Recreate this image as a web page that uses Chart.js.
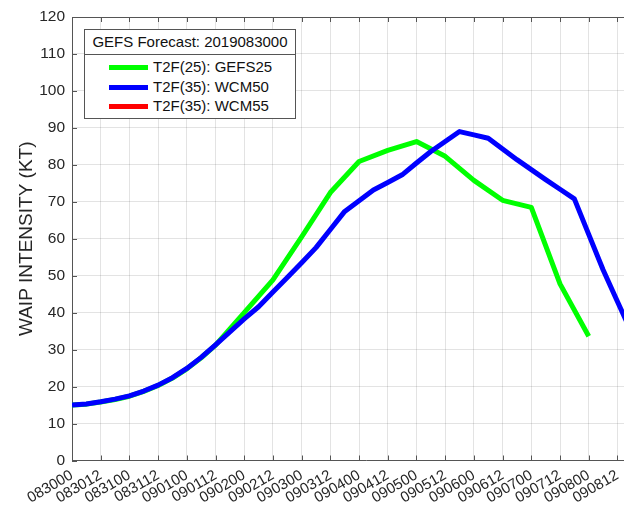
<!DOCTYPE html>
<html>
<head>
<meta charset="utf-8">
<script src="https://cdn.jsdelivr.net/npm/chart.js@4"></script>
<style>
    html, body { margin: 0; padding: 0; overflow: hidden; background: #fff; }
    #wrap { position: relative; width: 624px; height: 509px; overflow: hidden; }
    #grafico { position: absolute; left: 0; top: 0; }
    #leyenda {
        position: absolute; left: 84px; top: 29px; width: 210px; height: 88px;
        border: 1px solid #555; background: #fff;
        font-family: "Liberation Sans", Arial, sans-serif; font-size: 15px; color: #111;
    }
    #leyenda .titulo { height: 24px; line-height: 24px; text-align: center; border-bottom: 1px solid #555; }
    #leyenda .fila { height: 19.7px; line-height: 19.7px; position: relative; padding-left: 68px; }
    #leyenda .fila span.linea { position: absolute; left: 24px; top: 8px; width: 39px; height: 5px; }
    #leyenda .filas { padding-top: 2px; }
</style>
</head>
<body>
<div id="wrap">
    <canvas id="grafico" width="660" height="509"></canvas>
    <div id="leyenda"></div>
</div>
<script>
// Etiquetas del eje X (cada 12 horas desde 083000)
const tickLabels = ['083000', '083012', '083100', '083112', '090100', '090112', '090200', '090212',
    '090300', '090312', '090400', '090412', '090500', '090512', '090600', '090612',
    '090700', '090712', '090800', '090812'];

const legendTitle = 'GEFS Forecast: 2019083000';
const seriesNames = ['T2F(25): GEFS25', 'T2F(35): WCM50', 'T2F(35): WCM55'];
const seriesColors = ['#00ff00', '#0000ff', '#ff0000'];

// Horas desde el inicio del pronostico y valores (KT)
const gefs25Hours = [0, 6, 12, 18, 24, 30, 36, 42, 48, 54, 60, 72, 84, 96, 108, 120, 132, 144, 156, 168, 180, 192, 204, 216];
const gefs25Values = [15.0, 15.25, 15.85, 16.5, 17.4, 18.7, 20.3, 22.3, 24.8, 27.8, 31.2, 40.0, 48.9, 60.5, 72.5, 80.9, 83.9, 86.3, 82.3, 75.8, 70.4, 68.5, 47.8, 33.6];

const wcm50Hours = [0, 6, 12, 18, 24, 30, 36, 42, 48, 54, 60, 66, 72, 78, 84, 90, 96, 102, 108, 114, 120, 126, 132, 138,
    144, 150, 156, 162, 168, 174, 180, 186, 192, 198, 204, 210, 216, 222, 228, 234];
const wcm50Values = [15.0, 15.3, 15.9, 16.6, 17.5, 18.8, 20.4, 22.4, 24.9, 27.9, 31.3, 34.8, 38.3, 41.6, 45.6, 49.5, 53.5, 57.6,
    62.5, 67.4, 70.3, 73.2, 75.2, 77.3, 80.5, 83.6, 86.3, 89.0, 88.1, 87.2, 84.3, 81.4, 78.7, 76.0, 73.4, 70.8, 61.2, 51.6, 43.0, 34.5];

const wcm55Hours = [];
const wcm55Values = [];

const yTicks = [0, 10, 20, 30, 40, 50, 60, 70, 80, 90, 100, 110, 120];

const fuente = '"Liberation Sans", Arial, sans-serif';
const colorEje = '#555555';
const colorTexto = '#262626';

function armarPuntos(horas, valores) {
    return horas.map((h, i) => ({ x: h, y: valores[i] }));
}

// Marcas interiores y borde superior, estilo MATLAB
const marcasInteriores = {
    id: 'marcasInteriores',
    afterDraw(chart) {
        const { ctx, chartArea, scales } = chart;
        ctx.save();
        ctx.strokeStyle = colorEje;
        ctx.lineWidth = 1;
        ctx.beginPath();
        ctx.moveTo(chartArea.left, chartArea.top + 0.5);
        ctx.lineTo(chartArea.right, chartArea.top + 0.5);
        scales.x.ticks.forEach(t => {
            const px = Math.round(scales.x.getPixelForValue(t.value)) + 0.5;
            ctx.moveTo(px, chartArea.bottom);
            ctx.lineTo(px, chartArea.bottom - 5);
            ctx.moveTo(px, chartArea.top);
            ctx.lineTo(px, chartArea.top + 5);
        });
        scales.y.ticks.forEach(t => {
            const py = Math.round(scales.y.getPixelForValue(t.value)) + 0.5;
            ctx.moveTo(chartArea.left, py);
            ctx.lineTo(chartArea.left + 5, py);
        });
        ctx.stroke();
        ctx.restore();
    }
};

const ctx = document.getElementById('grafico').getContext('2d');
const grafico = new Chart(ctx, {
    type: 'line',
    data: {
        datasets: [
            { label: seriesNames[0], data: armarPuntos(gefs25Hours, gefs25Values), borderColor: seriesColors[0], backgroundColor: seriesColors[0], borderWidth: 5, pointRadius: 0, tension: 0, borderJoinStyle: 'round', order: 2 },
            { label: seriesNames[1], data: armarPuntos(wcm50Hours, wcm50Values), borderColor: seriesColors[1], backgroundColor: seriesColors[1], borderWidth: 5, pointRadius: 0, tension: 0, borderJoinStyle: 'round', order: 1 },
            { label: seriesNames[2], data: armarPuntos(wcm55Hours, wcm55Values), borderColor: seriesColors[2], backgroundColor: seriesColors[2], borderWidth: 5, pointRadius: 0, tension: 0, order: 0 }
        ]
    },
    options: {
        responsive: false,
        animation: false,
        layout: { padding: { top: 17, right: 0, left: 0, bottom: 0 } },
        plugins: {
            legend: { display: false },
            tooltip: { enabled: false }
        },
        scales: {
            x: {
                type: 'linear',
                min: 0,
                max: 245.8,
                afterBuildTicks: scale => {
                    scale.ticks = tickLabels.map((_, i) => ({ value: i * 12 }));
                },
                afterFit: scale => { scale.height = 48.5; },
                ticks: {
                    callback: (value) => tickLabels[Math.round(value / 12)],
                    minRotation: 30,
                    maxRotation: 30,
                    autoSkip: false,
                    padding: 6,
                    color: colorTexto,
                    font: { family: fuente, size: 15 }
                },
                grid: { color: 'rgba(0,0,0,0.11)', drawTicks: false },
                border: { display: true, color: colorEje }
            },
            y: {
                min: 0,
                max: 120,
                afterBuildTicks: scale => {
                    scale.ticks = yTicks.map(v => ({ value: v }));
                },
                afterFit: scale => { scale.width = 72; },
                ticks: {
                    padding: 7,
                    color: colorTexto,
                    font: { family: fuente, size: 15.5 }
                },
                grid: { color: 'rgba(0,0,0,0.11)', drawTicks: false },
                border: { display: true, color: colorEje },
                title: {
                    display: true,
                    text: 'WAIP INTENSITY (KT)',
                    color: colorTexto,
                    font: { family: fuente, size: 19 },
                    padding: { top: 15, bottom: 0 }
                }
            }
        }
    },
    plugins: [marcasInteriores]
});

// Leyenda con titulo, como en la figura original
const leyenda = document.getElementById('leyenda');
let html = `<div class="titulo">${legendTitle}</div><div class="filas">`;
grafico.data.datasets.forEach((ds, i) => {
    html += `<div class="fila"><span class="linea" style="background:${seriesColors[i]}"></span>${ds.label}</div>`;
});
html += '</div>';
leyenda.innerHTML = html;
</script>
</body>
</html>
